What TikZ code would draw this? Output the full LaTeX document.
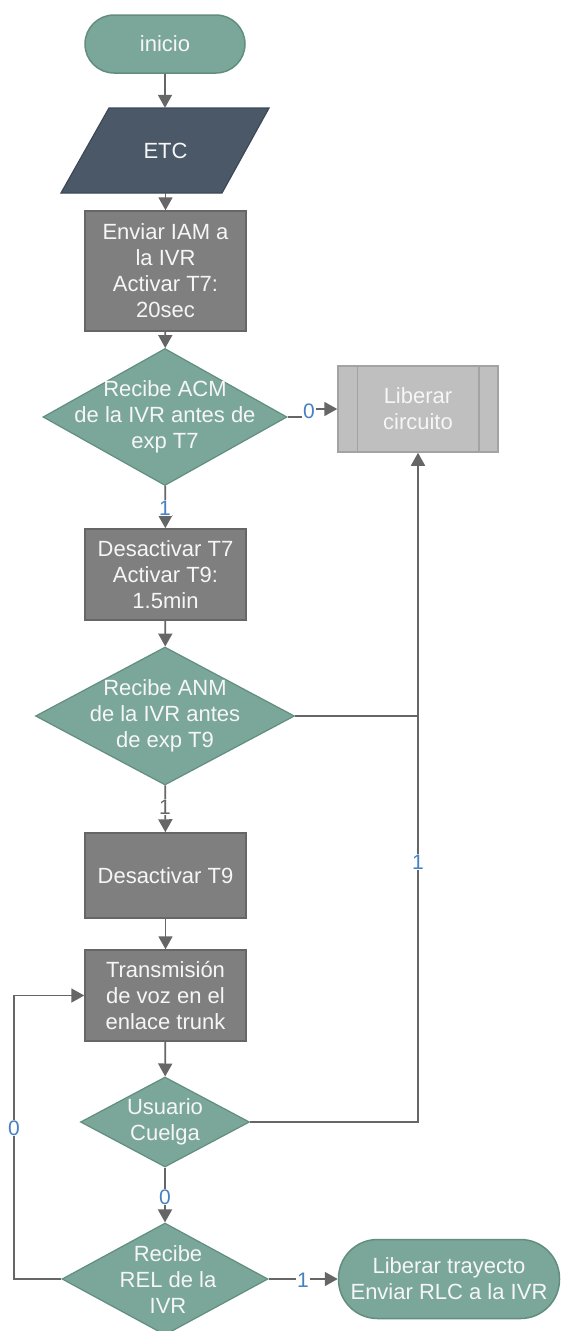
\documentclass[tikz,border=0pt]{standalone}
\usepackage{fontspec}
\setmainfont{Liberation Sans}
\usetikzlibrary{shapes.geometric,arrows.meta}
\definecolor{tealF}{RGB}{122,167,153}
\definecolor{tealD}{RGB}{98,142,128}
\definecolor{slateF}{RGB}{74,88,104}
\definecolor{slateD}{RGB}{60,72,86}
\definecolor{grayF}{RGB}{127,127,127}
\definecolor{grayD}{RGB}{102,102,102}
\definecolor{lgrayF}{RGB}{191,191,191}
\definecolor{lgrayD}{RGB}{163,163,163}
\definecolor{lineC}{RGB}{102,102,102}
\definecolor{labB}{RGB}{70,130,195}
\definecolor{txtW}{RGB}{246,246,246}
\newcommand\mfs{\fontsize{22}{26}\selectfont}
\newcommand\lfs{\fontsize{21}{24}\selectfont}
\begin{document}
\begin{tikzpicture}[x=1pt,y=-1pt,
  term/.style={rectangle, draw=tealD, fill=tealF, line width=1.5pt, inner sep=0pt, text=txtW, align=center, font=\mfs},
  procbox/.style={rectangle, draw=grayD, fill=grayF, line width=1.5pt, inner sep=0pt, minimum width=161pt, text=txtW, align=center, font=\mfs},
  dia/.style={diamond, draw=tealD, fill=tealF, line width=1.2pt, inner sep=0pt},
  txt/.style={text=txtW, align=center, inner sep=0pt, font=\mfs},
  conn/.style={draw=lineC, line width=1.8pt},
  arr/.style={conn, -{Triangle[length=13pt,width=14pt]}},
  lab/.style={fill=white, inner sep=1pt, text=labB, font=\lfs},
  labg/.style={fill=white, inner sep=1pt, text=lineC, font=\lfs}
]
\useasboundingbox (0,0) rectangle (560,1331);

% start
\node[term, rounded corners=29pt, minimum width=160pt, minimum height=58pt] (ini) at (165,44) {inicio};

% ETC parallelogram
\filldraw[fill=slateF, draw=slateD, line width=1.2pt] (61,193) -- (109,108) -- (269,108) -- (222,193) -- cycle;
\node[txt, minimum width=160pt, minimum height=85pt] (etc) at (165.5,150.5) {ETC};

% process 1
\node[procbox, minimum height=120pt] (b1) at (165.5,271) {Enviar IAM a\\la IVR\\Activar T7:\\20sec};

% decision 1
\node[dia, minimum width=244pt, minimum height=137pt] (d1) at (165,417) {};
\node[txt] (d1t) at (d1) {Recibe ACM\\de la IVR antes de\\exp T7};

% Liberar circuito
\node[rectangle, draw=lgrayD, fill=lgrayF, line width=1.5pt, minimum width=160pt, minimum height=86pt, inner sep=0pt, text=txtW, align=center, font=\mfs] (lib) at (418,409) {Liberar\\circuito};
\draw[draw=lgrayD, line width=1.5pt] ([xshift=20pt]lib.north west) -- ([xshift=20pt]lib.south west);
\draw[draw=lgrayD, line width=1.5pt] ([xshift=-20pt]lib.north east) -- ([xshift=-20pt]lib.south east);

% process 2
\node[procbox, minimum height=91pt] (b2) at (165.5,574.5) {Desactivar T7\\Activar T9:\\1.5min};

% decision 2
\node[dia, minimum width=259pt, minimum height=138pt] (d2) at (165,716) {};
\node[txt] (d2t) at (d2) {Recibe ANM\\de la IVR antes\\de exp T9};

% process 3
\node[procbox, minimum height=85pt] (b3) at (165.5,875.5) {Desactivar T9};

% process 4
\node[procbox, minimum height=91pt] (b4) at (165.5,995.5) {Transmisión\\de voz en el\\enlace trunk};

% decision 3
\node[dia, minimum width=169pt, minimum height=90pt] (d3) at (165,1122) {};
\node[txt] (d3t) at (d3) {Usuario\\Cuelga};

% decision 4
\node[dia, minimum width=206pt, minimum height=112pt] (d4) at (165,1279) {};
\node[txt] (d4t) at (168,1280) {Recibe\\REL de la\\IVR};

% end
\node[term, rounded corners=39pt, minimum width=221pt, minimum height=79pt] (fin) at (449,1279) {Liberar trayecto\\Enviar RLC a la IVR};

% coordinates for routing
\coordinate (loopx) at (14,0);
\coordinate (jog) at (309,0);

% connectors
\draw[arr] (ini) -- (ini |- etc.north);
\draw[arr] (etc.south) -- (b1);
\draw[arr] (b1) -- (d1);
\draw[arr] (d1.east) -- (d1.east -| jog) |- (lib.west);
\node[lab] (l0a) at (309,411) {0};
\draw[arr] (d1) -- (b2);
\node[lab] (l1a) at (165,508) {1};
\draw[arr] (b2) -- (d2);
\draw[arr] (d2) -- (b3);
\node[labg] (l1b) at (165,807) {1};
\draw[conn] (d2.east) -- (d2.east -| lib.south);
\draw[arr] (b3) -- (b4);
\draw[arr] (b4) -- (d3);
\draw[arr] (d3.east) -| (lib.south);
\node[lab] (l1c) at (418,862) {1};
\draw[arr] (d3) -- (d4);
\node[lab] (l0b) at (165,1197) {0};
\draw[arr] (d4.west) -- (d4.west -| loopx) |- (b4.west);
\node[lab] (l0c) at (14,1128) {0};
\draw[arr] (d4.east) -- (fin.west);
\node[lab] (l1d) at (303,1280) {1};
\end{tikzpicture}
\end{document}
